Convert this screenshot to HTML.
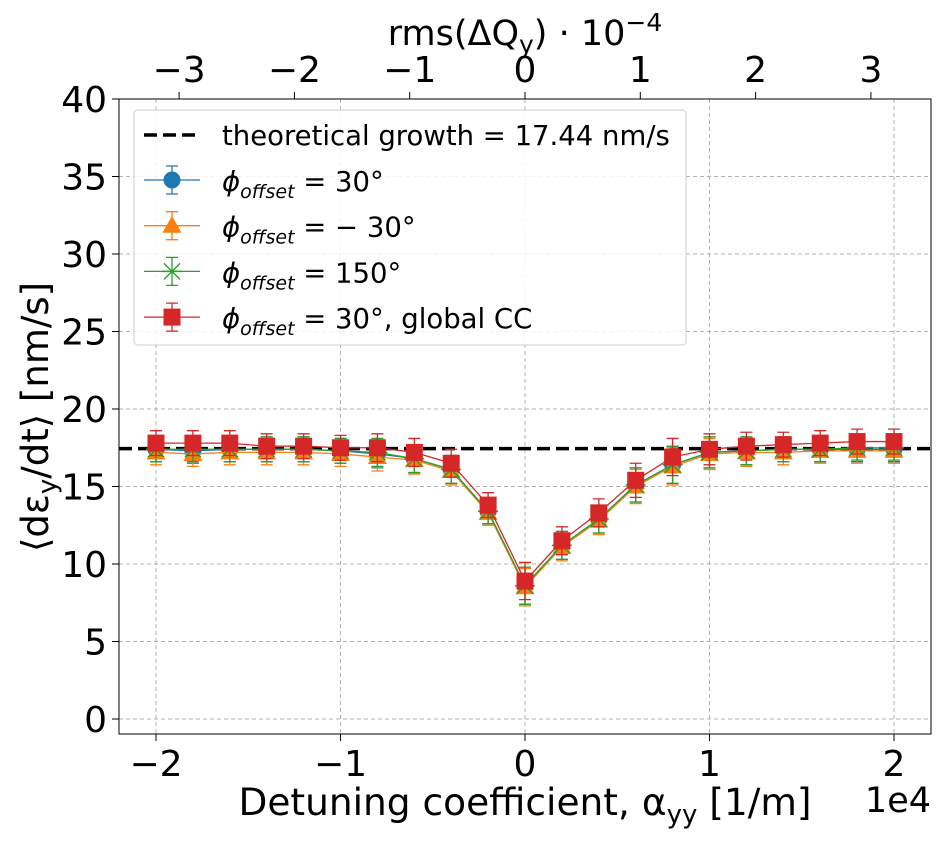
<!DOCTYPE html>
<html><head><meta charset="utf-8"><style>
body{margin:0;background:#fff}
svg text{font-family:"DejaVu Sans","Liberation Sans",sans-serif;fill:#000}
</style></head><body>
<svg id="chart" width="939" height="840" xmlns="http://www.w3.org/2000/svg">
<g id="grid"></g>
<g id="series"></g>
<rect x="119" y="99" width="812" height="635" fill="none" stroke="#000" stroke-width="1"/>
<g id="axes"></g>
<text x="525" y="815" font-size="37.5" text-anchor="middle">Detuning coefficient, α<tspan font-size="26" dy="8">yy</tspan><tspan dy="-8"> [1/m]</tspan></text>
<text x="931" y="812" font-size="35" text-anchor="end">1e4</text>
<text x="525" y="45" font-size="35" text-anchor="middle">rms(ΔQ<tspan font-size="25" dy="8">y</tspan><tspan dy="-8">) · 10</tspan><tspan font-size="25" dy="-14">−4</tspan></text>
<text transform="translate(48,417) rotate(-90)" font-size="37" text-anchor="middle">⟨dε<tspan font-size="26" dy="8">y</tspan><tspan dy="-8">/dt⟩ [nm/s]</tspan></text>
<g id="legend">
<rect x="134" y="110" width="552" height="235" rx="4" fill="#fff" fill-opacity="0.85" stroke="#ccc"/>
</g>
</svg>
<script>
const xs=[-2,-1.8,-1.6,-1.4,-1.2,-1,-0.8,-0.6,-0.4,-0.2,0,0.2,0.4,0.6,0.8,1,1.2,1.4,1.6,1.8,2];
const blueVals=[17.4,17.3,17.4,17.4,17.4,17.3,17.1,16.8,16.1,13.4,8.6,11.2,12.9,15.1,16.4,17.2,17.3,17.4,17.4,17.4,17.4];
const orangeVals=[17.2,17.1,17.2,17.2,17.2,17.1,16.9,16.7,16.0,13.3,8.5,11.1,12.8,15.0,16.3,17.1,17.2,17.2,17.3,17.3,17.3];
const greenVals=[17.4,17.4,17.4,17.4,17.4,17.3,17.2,16.8,16.1,13.4,8.6,11.2,12.9,15.1,16.4,17.2,17.3,17.4,17.4,17.5,17.5];
const redVals=[17.8,17.8,17.8,17.6,17.6,17.5,17.5,17.2,16.5,13.8,8.9,11.5,13.3,15.4,16.9,17.4,17.6,17.7,17.8,17.9,17.9];
const errVals=[0.8,0.8,0.8,0.8,0.8,0.8,0.9,0.9,0.9,0.8,1.2,0.9,0.9,1.1,1.2,1.0,0.9,0.8,0.8,0.8,0.8];
const theory=17.44;
const xTicks=[-2,-1,0,1,2];const xTickLabels=["−2","−1","0","1","2"];
const yTicks=[0,5,10,15,20,25,30,35,40];
const topTicks=[-3,-2,-1,0,1,2,3];const topTickLabels=["−3","−2","−1","0","1","2","3"];
const X=v=>525+v*369/2, Y=v=>719-v*15.5, T=v=>525+v*115.3;
const NS="http://www.w3.org/2000/svg";
function mk(p,t,a){const e=document.createElementNS(NS,t);for(const k in a)e.setAttribute(k,a[k]);p.appendChild(e);return e;}
const grid=document.getElementById('grid'),axes=document.getElementById('axes'),ser=document.getElementById('series'),leg=document.getElementById('legend');
xTicks.forEach((v,i)=>{
 const l=mk(grid,'line',{x1:X(v),x2:X(v),y1:99,y2:734,stroke:'#b0b0b0','stroke-dasharray':'4,3'});
 
 mk(axes,'line',{x1:X(v),x2:X(v),y1:734,y2:741,stroke:'#000'});
 const t=mk(axes,'text',{x:X(v),y:776,'font-size':36,'text-anchor':'middle'});t.textContent=xTickLabels[i];
 
});
yTicks.forEach(v=>{
 const l=mk(grid,'line',{x1:119,x2:931,y1:Y(v),y2:Y(v),stroke:'#b0b0b0','stroke-dasharray':'4,3'});
 
 mk(axes,'line',{x1:112,x2:119,y1:Y(v),y2:Y(v),stroke:'#000'});
 const t=mk(axes,'text',{x:107,y:Y(v)+13,'font-size':36,'text-anchor':'end'});t.textContent=v;
 
});
topTicks.forEach((v,i)=>{
 mk(axes,'line',{x1:T(v),x2:T(v),y1:92,y2:99,stroke:'#000'});
 const t=mk(axes,'text',{x:T(v),y:82,'font-size':36,'text-anchor':'middle'});t.textContent=topTickLabels[i];
 
});
const th=mk(ser,'line',{x1:119,x2:931,y1:Y(theory),y2:Y(theory),stroke:'#000','stroke-width':3.5,'stroke-dasharray':'13,6'});

function marker(g,kind,cx,cy,c){
 if(kind==='o')mk(g,'circle',{cx,cy,r:8.5,fill:c});
 else if(kind==='^')mk(g,'polygon',{points:`${cx},${cy-10} ${cx-9.5},${cy+7} ${cx+9.5},${cy+7}`,fill:c});
 else if(kind==='x'){mk(g,'path',{d:`M${cx-8},${cy-8}L${cx+8},${cy+8}M${cx-8},${cy+8}L${cx+8},${cy-8}M${cx-10},${cy}L${cx+10},${cy}`,stroke:c,'stroke-width':1.5});}
 else mk(g,'rect',{x:cx-8.5,y:cy-8.5,width:17,height:17,fill:c});
}
const S=[['blue',blueVals,'#1f77b4','o'],['orange',orangeVals,'#ff7f0e','^'],['green',greenVals,'#2ca02c','x'],['red',redVals,'#d62728','s']];
S.forEach(([n,vals,c,m])=>{
 const g=mk(ser,'g',{});
 vals.forEach((v,i)=>{const x=X(xs[i]),e=errVals[i];
  mk(g,'path',{d:`M${x},${Y(v-e)}V${Y(v+e)}M${x-6},${Y(v-e)}H${x+6}M${x-6},${Y(v+e)}H${x+6}`,stroke:c,'stroke-width':1.3,fill:'none'});});
 mk(g,'polyline',{points:vals.map((v,i)=>X(xs[i])+','+Y(v)).join(' '),fill:'none',stroke:c,'stroke-width':1.3});
 vals.forEach((v,i)=>marker(g,m,X(xs[i]),Y(v),c));
});
// legend
mk(leg,'line',{x1:144,x2:200,y1:135,y2:135,stroke:'#000','stroke-width':3.5,'stroke-dasharray':'13,6'});
let t=mk(leg,'text',{x:222,y:145,'font-size':27.5});t.textContent='theoretical growth = 17.44 nm/s';

const labs=['= 30°','= − 30°','= 150°','= 30°, global CC'];
S.forEach(([n,vals,c,m],i)=>{const y=180+i*45.7;
 mk(leg,'path',{d:`M144,${y}H200M172,${y-14}V${y+14}M166,${y-14}H178M166,${y+14}H178`,stroke:c,'stroke-width':1.3});
 marker(leg,m,172,y,c);
 const tx=mk(leg,'text',{x:222,y:y+11,'font-size':27.5});
 tx.innerHTML=`<tspan font-style="italic">ϕ</tspan><tspan font-style="italic" font-size="19" dy="7">offset</tspan><tspan dy="-7"> ${labs[i]}</tspan>`;
 
});
</script>
</body></html>
